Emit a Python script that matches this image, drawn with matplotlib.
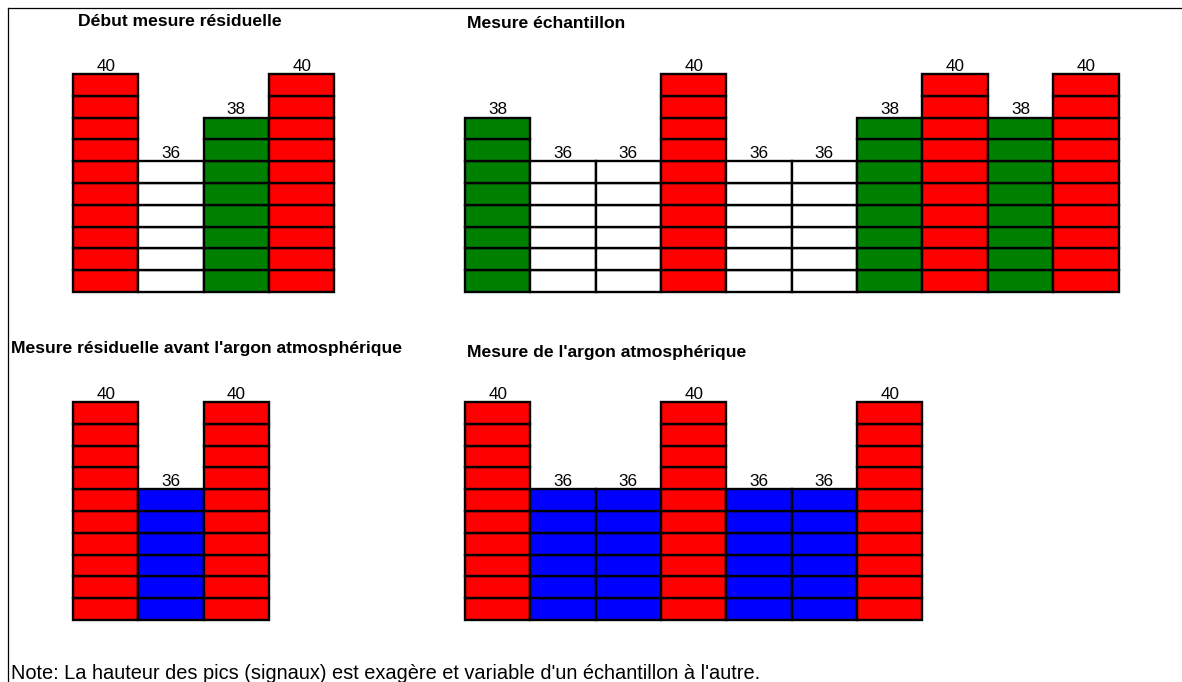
import numpy as np
import matplotlib
matplotlib.use("Agg")
import matplotlib.pyplot as plt
from matplotlib.lines import Line2D

plt.rcParams['font.family'] = ['Liberation Sans', 'DejaVu Sans']

# masses mesurées par panneau (une brique = une unité au-dessus de BASE)
BASE = 30
titles = ["Début mesure résiduelle",
          "Mesure échantillon",
          "Mesure résiduelle avant l'argon atmosphérique",
          "Mesure de l'argon atmosphérique"]
debut_residuelle = [40, 36, 38, 40]
echantillon = [38, 36, 36, 40, 36, 36, 38, 40, 38, 40]
residuelle_avant_air = [40, 36, 40]
argon_atmospherique = [40, 36, 36, 40, 36, 36, 40]
note = "Note: La hauteur des pics (signaux) est exagère et variable d'un échantillon à l'autre."

colors_top = {40: "#ff0000", 38: "#008000", 36: "#ffffff"}
colors_bottom = {40: "#ff0000", 38: "#008000", 36: "#0000ff"}

W, H = 1182, 682
BAR_PX = 65.35
BRICK_PX = 21.8

fig = plt.figure(figsize=(W / 100, H / 100), dpi=100)


def panel(values, colors, left_px, base_px):
    n = len(values)
    ax = fig.add_axes([left_px / W, (H - base_px) / H,
                       n * BAR_PX / W, 10 * BRICK_PX / H])
    for i, v in enumerate(values):
        k = v - BASE
        ax.bar([i] * k, 1, bottom=np.arange(BASE, v), width=1,
               color=colors[v], edgecolor="black", linewidth=1.7,
               clip_on=False)
        ax.annotate(str(v), (i, v), xytext=(0, 2.5), textcoords="offset points",
                    ha="center", va="baseline", fontsize=12.3)
    ax.set_xlim(-0.5, n - 0.5)
    ax.set_ylim(BASE, BASE + 10)
    ax.axis("off")
    return ax


panel(debut_residuelle, colors_top, 73, 292)
panel(echantillon, colors_top, 465, 292)
panel(residuelle_avant_air, colors_bottom, 73, 620)
panel(argon_atmospherique, colors_bottom, 465, 620)

# titres
title_pos = [(78, 26), (467, 28), (11, 353), (467, 357)]
for t, (x, y) in zip(titles, title_pos):
    fig.text(x / W, 1 - y / H, t, fontsize=12.6, fontweight="bold",
             ha="left", va="baseline")

fig.text(11 / W, 1 - 679 / H, note, fontsize=14.4, ha="left", va="baseline")

# cadre (haut et gauche)
fig.add_artist(Line2D([7.5 / W, 7.5 / W], [0, 1 - 8 / H], color="black", lw=0.9))
fig.add_artist(Line2D([7.5 / W, 1], [1 - 8 / H, 1 - 8 / H], color="black", lw=0.9))

fig.savefig("out.png", dpi=100)
